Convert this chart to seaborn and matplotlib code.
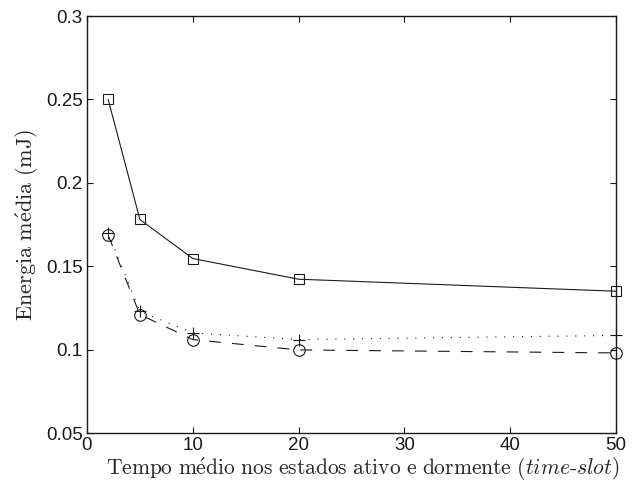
import numpy as np
import matplotlib
matplotlib.use("Agg")
import matplotlib.pyplot as plt
import seaborn as sns

# data
tempo = [2, 5, 10, 20, 50]
energia_quad = [0.250, 0.178, 0.1546, 0.1422, 0.135]
energia_mais = [0.170, 0.123, 0.110, 0.106, 0.1085]
energia_circ = [0.1686, 0.121, 0.106, 0.0998, 0.098]

xticks = [0, 10, 20, 30, 40, 50]
yticks = [0.05, 0.1, 0.15, 0.2, 0.25, 0.3]
yticklabels = ["0.05", "0.1", "0.15", "0.2", "0.25", "0.3"]

sns.set_theme(style="ticks")
plt.rcParams["font.family"] = ["Liberation Sans", "DejaVu Sans"]
plt.rcParams["mathtext.fontset"] = "cm"
plt.rcParams["lines.scale_dashes"] = False

fig = plt.figure(figsize=(6.37, 4.86), dpi=100)
ax = fig.add_axes([87 / 637, 1 - 433 / 486, (616 - 87) / 637, (433 - 16) / 486])

common = dict(color="k", linewidth=0.8, markerfacecolor="none",
              markeredgecolor="k", markeredgewidth=0.8, clip_on=False)

sns.lineplot(x=tempo, y=energia_quad, ax=ax, marker="s", markersize=7,
             linestyle="-", **common)
sns.lineplot(x=tempo, y=energia_circ, ax=ax, marker="o", markersize=8.3,
             dashes=False, **common)
ax.lines[-1].set_dashes((8.5, 8))
sns.lineplot(x=tempo, y=energia_mais, ax=ax, marker="+", markersize=8.5,
             dashes=False, **common)
ax.lines[-1].set_dashes((0.8, 5.6))

ax.set_xlim(0, 50)
ax.set_ylim(0.05, 0.3)
ax.set_xticks(xticks)
ax.set_yticks(yticks)
ax.set_yticklabels(yticklabels)
ax.tick_params(direction="in", top=True, right=True, length=4, width=0.8,
               labelsize=13.5, pad=3, colors="k")
for s in ax.spines.values():
    s.set_linewidth(1.0)
    s.set_color("k")

ax.set_xlabel(r"$\mathrm{Tempo\ m\acute{e}dio\ nos\ estados\ ativo\ e\ dormente\ (}"
              r"\mathit{time\text{-}slot}\mathrm{)}$", fontsize=15.5, labelpad=0)
ax.xaxis.set_label_coords(0.522, -0.052)
ax.xaxis.label.set_va("top")
ax.set_ylabel(r"$\mathrm{Energia\ m\acute{e}dia\ (mJ)}$", fontsize=16, labelpad=4)

fig.savefig("out.png", dpi=100)
